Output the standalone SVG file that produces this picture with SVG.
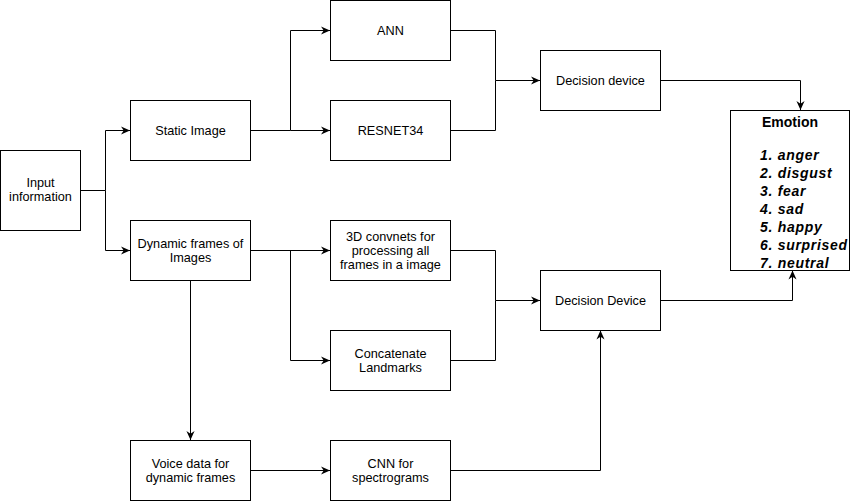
<svg xmlns="http://www.w3.org/2000/svg" width="851" height="501" viewBox="0 0 851 501">
<style>
.box{fill:#fff;stroke:#000;stroke-width:1}
.t{font-family:"Liberation Sans",Arial,sans-serif;font-size:12.7px;fill:#000;text-anchor:middle}
.e{font-family:"Liberation Sans",Arial,sans-serif;font-size:14px;font-weight:bold;fill:#000}
.i{font-style:italic;letter-spacing:0.7px}
.c{fill:none;stroke:#000;stroke-width:1}
</style>
<defs>
<marker id="a" viewBox="0 0 10 10" refX="10" refY="5" markerWidth="9" markerHeight="9" markerUnits="userSpaceOnUse" orient="auto">
<path d="M0,0.5 L10,5 L0,9.5 L3,5 z" fill="#000"/>
</marker>
</defs>
<rect width="851" height="501" fill="#fff"/>
<g id="connectors">
<path class="c" d="M80.5 190.5 H105.5 V130.5 H130" marker-end="url(#a)"/>
<path class="c" d="M105.5 190.5 V250.5 H130" marker-end="url(#a)"/>
<path class="c" d="M250.5 130.5 H290.5 V30.5 H330" marker-end="url(#a)"/>
<path class="c" d="M290.5 130.5 H330" marker-end="url(#a)"/>
<path class="c" d="M450.5 30.5 H495.5 V80.5 H540" marker-end="url(#a)"/>
<path class="c" d="M450.5 130.5 H495.5 V80.5"/>
<path class="c" d="M660.5 80.5 H800.5 V110" marker-end="url(#a)"/>
<path class="c" d="M250.5 250.5 H330" marker-end="url(#a)"/>
<path class="c" d="M290.5 250.5 V360.5 H330" marker-end="url(#a)"/>
<path class="c" d="M450.5 250.5 H495.5 V300.5 H540" marker-end="url(#a)"/>
<path class="c" d="M450.5 360.5 H495.5 V300.5"/>
<path class="c" d="M660.5 300.5 H792.5 V270.5" marker-end="url(#a)"/>
<path class="c" d="M190.5 280.5 V440" marker-end="url(#a)"/>
<path class="c" d="M250.5 470.5 H330" marker-end="url(#a)"/>
<path class="c" d="M450.5 470.5 H600.5 V330.5" marker-end="url(#a)"/>
</g>
<g id="input">
<rect class="box" x="0.5" y="150.5" width="80" height="80"/>
<text class="t" x="40.5" y="187">Input</text>
<text class="t" x="40.5" y="201">information</text>
</g>
<g id="static">
<rect class="box" x="130.5" y="100.5" width="120" height="60"/>
<text class="t" x="190.5" y="135">Static Image</text>
</g>
<g id="dynamic">
<rect class="box" x="130.5" y="220.5" width="120" height="60"/>
<text class="t" x="190.5" y="248">Dynamic frames of</text>
<text class="t" x="190.5" y="262">Images</text>
</g>
<g id="ann">
<rect class="box" x="330.5" y="0.5" width="120" height="60"/>
<text class="t" x="390.5" y="35">ANN</text>
</g>
<g id="resnet">
<rect class="box" x="330.5" y="100.5" width="120" height="60"/>
<text class="t" x="390.5" y="135">RESNET34</text>
</g>
<g id="decision1">
<rect class="box" x="540.5" y="50.5" width="120" height="60"/>
<text class="t" x="600.5" y="85">Decision device</text>
</g>
<g id="convnets">
<rect class="box" x="330.5" y="220.5" width="120" height="60"/>
<text class="t" x="390.5" y="241">3D convnets for</text>
<text class="t" x="390.5" y="255">processing all</text>
<text class="t" x="390.5" y="269">frames in a image</text>
</g>
<g id="concat">
<rect class="box" x="330.5" y="330.5" width="120" height="60"/>
<text class="t" x="390.5" y="358">Concatenate</text>
<text class="t" x="390.5" y="372">Landmarks</text>
</g>
<g id="decision2">
<rect class="box" x="540.5" y="270.5" width="120" height="60"/>
<text class="t" x="600.5" y="305">Decision Device</text>
</g>
<g id="voice">
<rect class="box" x="130.5" y="440.5" width="120" height="60"/>
<text class="t" x="190.5" y="468">Voice data for</text>
<text class="t" x="190.5" y="482">dynamic frames</text>
</g>
<g id="cnn">
<rect class="box" x="330.5" y="440.5" width="120" height="60"/>
<text class="t" x="390.5" y="468">CNN for</text>
<text class="t" x="390.5" y="482">spectrograms</text>
</g>
<g id="emotion">
<rect class="box" x="730.5" y="110.5" width="119" height="160"/>
<text class="e" x="790" y="127" text-anchor="middle">Emotion</text>
<text class="e i" x="760" y="160">1. anger</text>
<text class="e i" x="760" y="178">2. disgust</text>
<text class="e i" x="760" y="196">3. fear</text>
<text class="e i" x="760" y="214">4. sad</text>
<text class="e i" x="760" y="232">5. happy</text>
<text class="e i" x="760" y="250">6. surprised</text>
<text class="e i" x="760" y="268">7. neutral</text>
</g>
</svg>
